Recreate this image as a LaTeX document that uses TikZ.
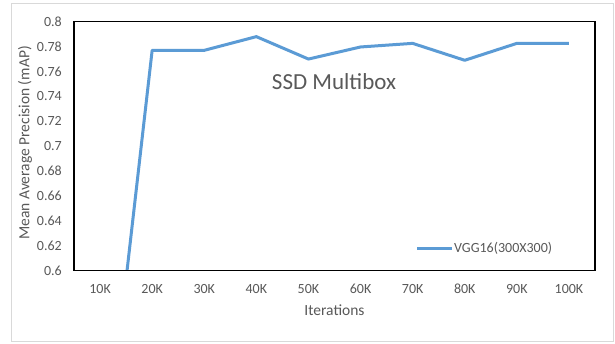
\documentclass[tikz,border=0pt]{standalone}
\usepackage{fontspec}
\setmainfont{Carlito}
\usetikzlibrary{positioning}
\definecolor{txtgray}{HTML}{595959}
\definecolor{framegray}{HTML}{D9D9D9}
\definecolor{serieblue}{HTML}{5B9BD5}

\begin{document}
\begin{tikzpicture}[x=1pt,y=-1pt,
	ticklabel/.style={text=txtgray,font=\fontsize{14}{16}\selectfont,inner sep=0pt},
	axtitle/.style={text=txtgray,font=\fontsize{15.5}{18}\selectfont,inner sep=0pt},
	serieline/.style={serieblue,line width=3pt,line join=round}]

	\useasboundingbox (0,0) rectangle (615,343);
	\fill[white] (0,0) rectangle (615,343);
	\draw[framegray,line width=1pt] (11,3) rectangle (613,341);

	\begin{scope}[shift={(74,270.7)},x=52.1pt,y=1245pt]
		\begin{scope}
			\clip (0,0) rectangle (10,0.2);
			\draw[serieline] (0.5,-0.19) -- (1.5,0.177) -- (2.5,0.177) -- (3.5,0.188)
				-- (4.5,0.170) -- (5.5,0.1797) -- (6.5,0.1826) -- (7.5,0.169)
				-- (8.5,0.1826) -- (9.5,0.1826);
		\end{scope}
		\draw[line width=1.2pt] (0,0) rectangle (10,0.2);

		\foreach \lab [count=\i from 0] in {0.6,0.62,0.64,0.66,0.68,0.7,0.72,0.74,0.76,0.78,0.8}
			\node[ticklabel,anchor=east] (ytick\i) at ([xshift=-12pt]0,0.02*\i) {\lab};
		\foreach \lab [count=\i] in {10K,20K,30K,40K,50K,60K,70K,80K,90K,100K}
			\node[ticklabel] (xtick\i) at ([yshift=-18.5pt]\i-0.5,0) {\lab};
	\end{scope}

	\node[axtitle] (xtitle) at (334.5,310) {Iterations};
	\node[axtitle,rotate=90] (ytitle) at (25,143) {Mean Average Precision (mAP)};
	\node[text=txtgray,font=\fontsize{23}{26}\selectfont,inner sep=0pt] (charttitle) at (334,82) {SSD Multibox};

	\coordinate (legA) at (417,248);
	\coordinate (legB) at (452,248);
	\draw[serieline] (legA) -- (legB);
	\node[ticklabel,anchor=west,right=2pt of legB] (legtext) {VGG16(300X300)};

\end{tikzpicture}
\end{document}
